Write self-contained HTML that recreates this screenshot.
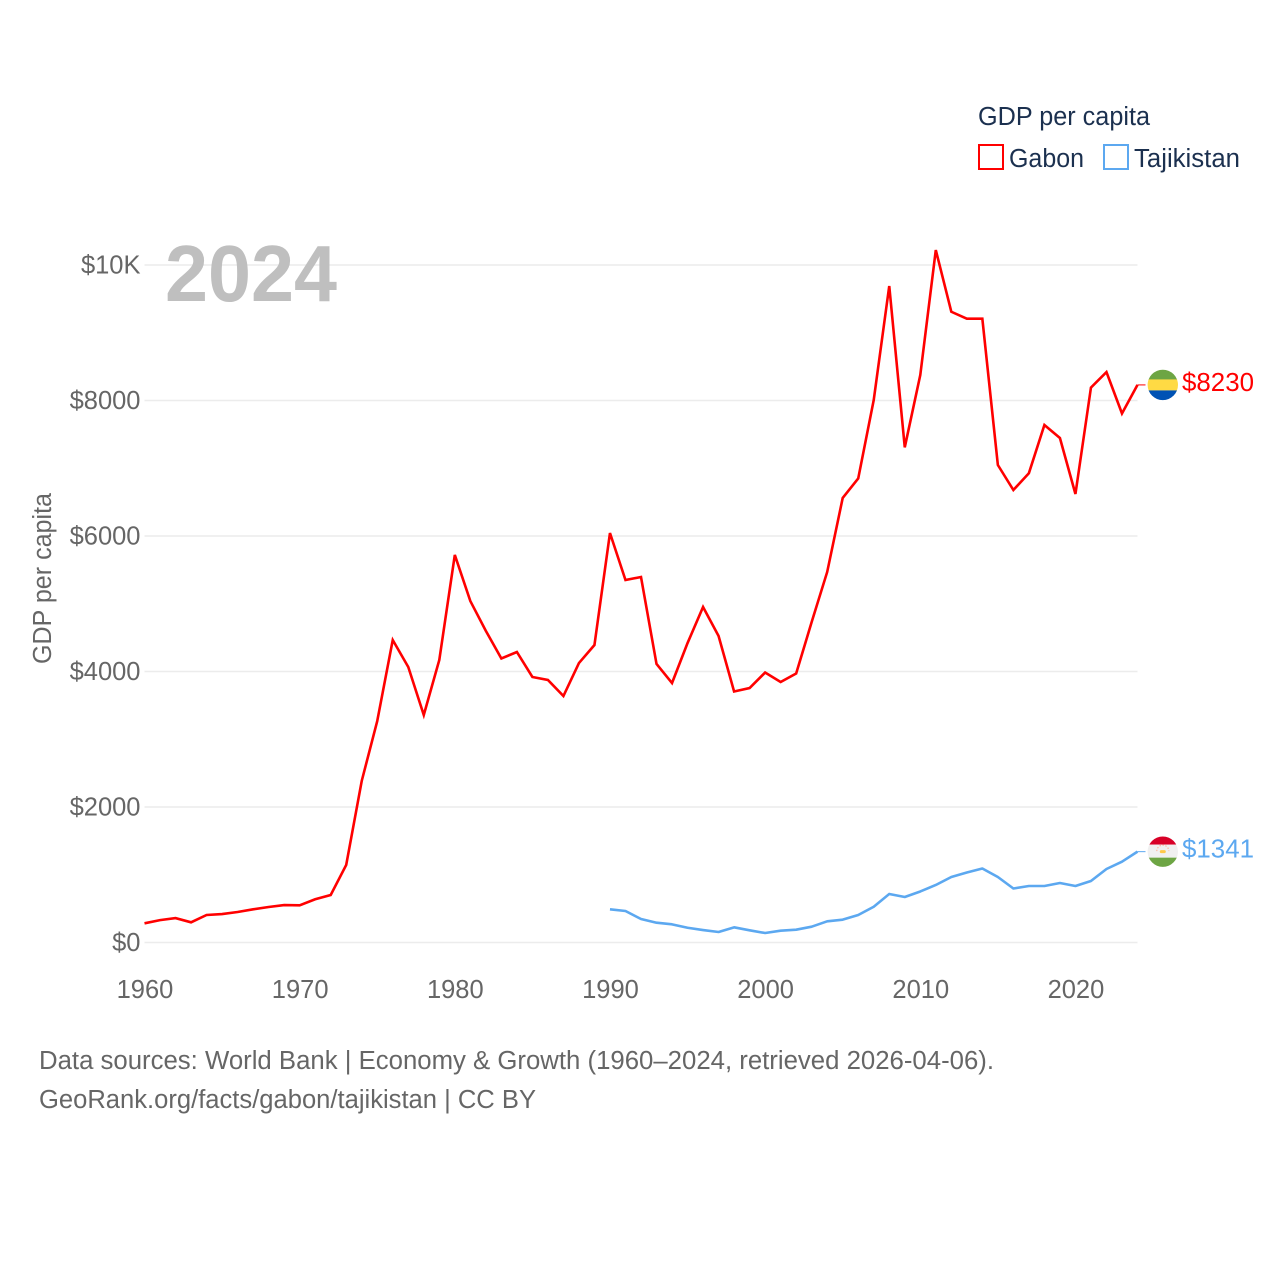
<!DOCTYPE html>
<html lang="en">
<head>
<meta charset="utf-8">
<title>GDP per capita: Gabon and Tajikistan</title>
<style>
html,body{margin:0;padding:0;background:#fff;}
svg{display:block;font-family:"Liberation Sans",sans-serif;}
</style>
</head>
<body>
<svg id="chart" xmlns="http://www.w3.org/2000/svg" width="1280" height="1280" viewBox="0 0 1280 1280">
  <defs>
    <clipPath id="flag-clip"><circle cx="0" cy="0" r="15.2"></circle></clipPath>
  </defs>
  <rect x="0" y="0" width="1280" height="1280" fill="#ffffff"></rect>
  <g id="grid"></g>
  <text x="165" y="301" font-size="80" font-weight="700" fill="#bfbfbf" textLength="172" lengthAdjust="spacingAndGlyphs">2024</text>
  <g id="y-axis"></g>
  <g id="x-axis"></g>
  <text transform="translate(51,664) rotate(-90)" font-size="25.5" fill="#666666" textLength="171" lengthAdjust="spacingAndGlyphs">GDP per capita</text>
  <g id="series"></g>

  <g>
    <text x="978" y="125" font-size="25.5" fill="#1b304f" textLength="172" lengthAdjust="spacingAndGlyphs">GDP per capita</text>
    <rect x="979" y="145" width="24" height="24" fill="none" stroke="#ff0000" stroke-width="2"></rect>
    <text x="1009" y="167" font-size="25.5" fill="#1b304f" textLength="75" lengthAdjust="spacingAndGlyphs">Gabon</text>
    <rect x="1104" y="145" width="24" height="24" fill="none" stroke="#5ca8f0" stroke-width="2"></rect>
    <text x="1134" y="167" font-size="25.5" fill="#1b304f" textLength="106" lengthAdjust="spacingAndGlyphs">Tajikistan</text>
  </g>

  <g id="flag-gabon">
    <g clip-path="url(#flag-clip)">
      <rect x="-16" y="-16" width="32" height="11" fill="#6da544"></rect>
      <rect x="-16" y="-5.5" width="32" height="11" fill="#ffda44"></rect>
      <rect x="-16" y="5.5" width="32" height="11" fill="#0052b4"></rect>
    </g>
  </g>
  <g id="flag-tajikistan">
    <g clip-path="url(#flag-clip)">
      <rect x="-16" y="-16" width="32" height="9" fill="#d80027"></rect>
      <rect x="-16" y="-7" width="32" height="13" fill="#f0f0f0"></rect>
      <rect x="-16" y="6" width="32" height="11" fill="#6da544"></rect>
      <rect x="-3" y="-1.5" width="6" height="3" rx="1.5" fill="#ffc94a"></rect>
      <path d="M-6 -0.5a6 6 0 0 1 12 0" fill="none" stroke="#ffb59a" stroke-width="1.2" stroke-dasharray="1.4 1.6"></path>
    </g>
  </g>
  <g id="end-labels"></g>

  <g>
    <text x="39" y="1069" font-size="25.5" fill="#666666" textLength="955" lengthAdjust="spacingAndGlyphs">Data sources: World Bank | Economy &amp; Growth (1960–2024, retrieved 2026-04-06).</text>
    <text x="39" y="1108" font-size="25.5" fill="#666666" textLength="497" lengthAdjust="spacingAndGlyphs">GeoRank.org/facts/gabon/tajikistan | CC BY</text>
  </g>
</svg>
<script>
const years = [1960,1961,1962,1963,1964,1965,1966,1967,1968,1969,1970,1971,1972,1973,1974,1975,1976,1977,1978,1979,1980,1981,1982,1983,1984,1985,1986,1987,1988,1989,1990,1991,1992,1993,1994,1995,1996,1997,1998,1999,2000,2001,2002,2003,2004,2005,2006,2007,2008,2009,2010,2011,2012,2013,2014,2015,2016,2017,2018,2019,2020,2021,2022,2023,2024];
const gabonValues = [283,330,360,298,406,420,450,490,524,553,549,638,701,1144,2384,3269,4465,4066,3358,4170,5720,5040,4600,4192,4288,3919,3875,3638,4125,4391,6044,5350,5395,4111,3830,4420,4952,4524,3705,3756,3985,3845,3970,4730,5469,6561,6849,8007,9690,7309,8376,10221,9310,9207,9207,7048,6679,6927,7638,7446,6620,8191,8420,7808,8230];
const tajikistanValues = [null,null,null,null,null,null,null,null,null,null,null,null,null,null,null,null,null,null,null,null,null,null,null,null,null,null,null,null,null,null,490,465,347,292,268,218,184,155,224,180,140,174,189,233,313,337,406,528,716,672,753,849,967,1033,1092,967,797,834,834,878,834,908,1085,1193,1341];
const yTickValues = [0,2000,4000,6000,8000,10000];
const yTickLabels = ["$0","$2000","$4000","$6000","$8000","$10K"];
const xTickYears = [1960,1970,1980,1990,2000,2010,2020];

const NS = 'http://www.w3.org/2000/svg';
const plotLeft = 144.5, plotRight = 1137.5, plotBottom = 942.5, plotTop = 265;
const xScale = function (year) { return plotLeft + (year - 1960) * (plotRight - plotLeft) / 64; };
const yScale = function (value) { return plotBottom - value * (plotBottom - plotTop) / 10000; };

const make = function (tag, parent, attrs, text) {
  const el = document.createElementNS(NS, tag);
  for (const key in attrs) el.setAttribute(key, attrs[key]);
  if (text !== undefined) el.textContent = text;
  parent.appendChild(el);
  return el;
};

const gridGroup = document.getElementById('grid');
const yAxisGroup = document.getElementById('y-axis');
yTickValues.forEach(function (value, i) {
  const y = yScale(value);
  const line = make('line', gridGroup, { x1: plotLeft, x2: plotRight, y1: y, y2: y, stroke: '#ececec', 'stroke-width': 1.5 });
  
  
  const label = make('text', yAxisGroup, { x: 140.5, y: y + 8.5, 'text-anchor': 'end', 'font-size': 25.5, fill: '#666666' }, yTickLabels[i]);
  
  
});

const xAxisGroup = document.getElementById('x-axis');
xTickYears.forEach(function (year) {
  const label = make('text', xAxisGroup, { x: xScale(year) + 0.5, y: 998, 'text-anchor': 'middle', 'font-size': 25.5, fill: '#666666' }, String(year));
  
  
});

const buildPath = function (values) {
  let d = '';
  values.forEach(function (value, i) {
    if (value === null) return;
    d += (d === '' ? 'M' : 'L') + xScale(years[i]).toFixed(2) + ' ' + yScale(value).toFixed(2);
  });
  return d;
};

const seriesGroup = document.getElementById('series');
const labelGroup = document.getElementById('end-labels');

const gabonLine = make('path', seriesGroup, { d: buildPath(gabonValues), fill: 'none', stroke: '#ff0000', 'stroke-width': 2.6, 'stroke-linejoin': 'miter' });


const tajikLine = make('path', seriesGroup, { d: buildPath(tajikistanValues), fill: 'none', stroke: '#5ca8f0', 'stroke-width': 2.6, 'stroke-linejoin': 'round' });



const gabonLast = gabonValues[gabonValues.length - 1];
const tajikLast = tajikistanValues[tajikistanValues.length - 1];

const gabonConnector = make('line', seriesGroup, { x1: plotRight, x2: plotRight + 8, y1: yScale(gabonLast), y2: yScale(gabonLast), stroke: '#ff0000', 'stroke-width': 1 });


const tajikConnector = make('line', seriesGroup, { x1: plotRight, x2: plotRight + 8, y1: yScale(tajikLast), y2: yScale(tajikLast), stroke: '#5ca8f0', 'stroke-width': 1 });



document.getElementById('flag-gabon').setAttribute('transform', 'translate(1162.8,' + yScale(gabonLast) + ')');
document.getElementById('flag-tajikistan').setAttribute('transform', 'translate(1162.8,' + yScale(tajikLast) + ')');

const gabonLabel = make('text', labelGroup, { x: 1182, y: yScale(gabonLast) + 6, 'font-size': 25.5, fill: '#ff0000', textLength: 72, lengthAdjust: 'spacingAndGlyphs' }, '$' + gabonLast);


const tajikLabel = make('text', labelGroup, { x: 1182, y: yScale(tajikLast) + 6, 'font-size': 25.5, fill: '#5ca8f0', textLength: 72, lengthAdjust: 'spacingAndGlyphs' }, '$' + tajikLast);


</script>
</body>
</html>
